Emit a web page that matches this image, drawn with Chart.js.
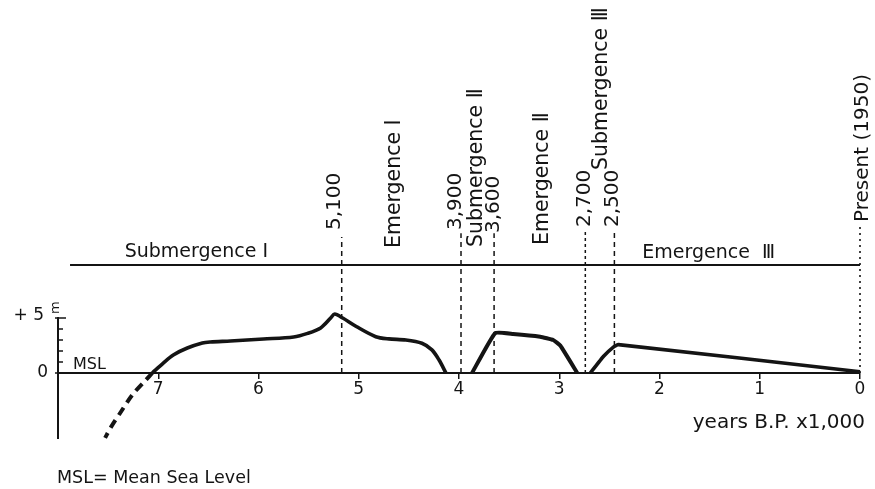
<!DOCTYPE html>
<html>
<head>
<meta charset="utf-8">
<script src="https://cdn.jsdelivr.net/npm/chart.js@4.4.1/dist/chart.umd.min.js"></script>
<style>
html,body{margin:0;padding:0;background:#fff;}
canvas{display:block;}
</style>
</head>
<body>
<canvas id="c" width="875" height="489"></canvas>
<script>
// ---- data (years B.P. x1,000 ; level in metres relative to MSL) ----
const xTicks = [7, 6, 5, 4, 3, 2, 1, 0];
const yTicks = [0, 1, 2, 3, 4, 5];

const curveAYears  = [7.06, 6.95, 6.85, 6.71, 6.56, 6.48, 6.28, 5.95, 5.65, 5.51, 5.38, 5.28, 5.24, 5.16, 5.02, 4.83, 4.70, 4.53, 4.37, 4.27, 4.20, 4.13];
const curveALevels = [0.0, 0.9, 1.64, 2.27, 2.73, 2.82, 2.91, 3.09, 3.27, 3.60, 4.10, 5.00, 5.36, 5.00, 4.20, 3.30, 3.10, 3.00, 2.70, 2.10, 1.20, 0.0];

const curveBYears  = [3.87, 3.64, 3.46, 3.19, 3.06, 2.99, 2.82];
const curveBLevels = [0.0, 3.62, 3.55, 3.30, 3.00, 2.50, 0.0];

const curveCYears  = [2.69, 2.56, 2.46, 2.41, 0.0];
const curveCLevels = [0.0, 1.50, 2.36, 2.58, 0.12];

const extrapYears  = [7.06, 7.12, 7.26, 7.37, 7.47, 7.53];
const extrapLevels = [0.0, -0.6, -2.0, -3.5, -4.9, -5.9];

const markerYears  = [5.17, 3.98, 3.65, 2.74, 2.45, 0.0];
const markerTops   = [12.36, 12.7, 12.7, 13.0, 13.0, 13.6];
const markerLabels = ['5,100', '3,900', '3,600', '2,700', '2,500', 'Present (1950)'];

const phaseLineYears = [7.88, 0.0];
const phaseLineLevel = 9.82;
const phaseLabels = ['Submergence Ⅰ', 'Emergence Ⅰ', 'Submergence Ⅱ', 'Emergence Ⅱ', 'Submergence Ⅲ', 'Emergence  Ⅲ'];

// ---- layout (positions of text in axis units) ----
const markerLabelPos = [[5.24, 13.0], [4.03, 13.0], [3.65, 12.73], [2.75, 13.27], [2.47, 13.27], [-0.03, 13.73]];
const phaseLabelPos  = [[6.62, 11.0, 0], [4.64, 11.36, 1], [3.82, 11.45, 1], [3.17, 11.64, 1], [2.58, 18.45, 1], [1.51, 10.9, 0]];

const INK = '#141414';
const FONT = '"DejaVu Sans", sans-serif';

function pts(xs, ys) { return xs.map((v, i) => ({x: v, y: ys[i]})); }

const datasets = [
  {data: pts(curveAYears, curveALevels), borderWidth: 3.6, tension: 0.3},
  {data: pts(curveBYears, curveBLevels), borderWidth: 4, tension: 0.12},
  {data: pts(curveCYears, curveCLevels), borderWidth: 3.6, tension: 0.1},
  {data: pts(extrapYears, extrapLevels), borderWidth: 4, tension: 0.3, borderDash: [9, 6]},
  {data: pts(phaseLineYears, [phaseLineLevel, phaseLineLevel]), borderWidth: 1.8}
];
markerYears.forEach((yr, i) => {
  const last = i === markerYears.length - 1;
  datasets.push({
    data: pts([yr, yr], [0, markerTops[i]]),
    borderWidth: last ? 1.6 : 1.5,
    borderDash: last ? [2, 4] : (i === 3 ? [3, 3] : [5, 4])
  });
});
datasets.forEach(d => {
  d.showLine = true; d.pointRadius = 0; d.borderColor = INK; d.fill = false;
  d.borderCapStyle = 'butt'; d.borderJoinStyle = 'round'; d.clip = false;
});

const annot = {
  id: 'annot',
  afterDraw(chart) {
    const {ctx, scales: {x, y}} = chart;
    ctx.save();
    ctx.fillStyle = INK; ctx.strokeStyle = INK;
    // y axis
    const x0 = x.getPixelForValue(8);
    ctx.lineWidth = 2;
    ctx.beginPath();
    ctx.moveTo(x0, y.getPixelForValue(5.1));
    ctx.lineTo(x0, y.getPixelForValue(-6));
    ctx.stroke();
    ctx.lineWidth = 1.5;
    yTicks.forEach(v => {
      const py = y.getPixelForValue(v);
      ctx.beginPath();
      ctx.moveTo(v === 5 || v === 0 ? x0 - 3 : x0, py);
      ctx.lineTo(v === 5 ? x0 + 8 : x0 + 5, py);
      ctx.stroke();
    });
    ctx.font = '17px ' + FONT;
    ctx.textAlign = 'right'; ctx.textBaseline = 'middle';
    ctx.fillText('0', x0 - 10, y.getPixelForValue(0));
    ctx.fillText('+ 5', x0 - 14, y.getPixelForValue(5) - 2);
    ctx.save();
    ctx.translate(x0 - 2, y.getPixelForValue(5) - 4);
    ctx.rotate(-Math.PI / 2);
    ctx.font = '13px ' + FONT; ctx.textAlign = 'left';
    ctx.fillText('m', 0, 0);
    ctx.restore();

    // MSL label
    ctx.font = '16px ' + FONT; ctx.textAlign = 'left'; ctx.textBaseline = 'middle';
    ctx.fillText('MSL', x.getPixelForValue(7.85), y.getPixelForValue(0.73));

    // axis title
    ctx.font = '20px ' + FONT; ctx.textAlign = 'right';
    ctx.fillText('years B.P. x1,000', x.getPixelForValue(-0.05), y.getPixelForValue(-4.55));

    // note
    ctx.font = '17.5px ' + FONT; ctx.textAlign = 'left';
    ctx.fillText('MSL= Mean Sea Level', x.getPixelForValue(8.01), y.getPixelForValue(-9.6));

    // marker labels (rotated)
    ctx.font = '20px ' + FONT;
    markerLabels.forEach((t, i) => {
      const [lx, ly] = markerLabelPos[i];
      ctx.save();
      ctx.translate(x.getPixelForValue(lx), y.getPixelForValue(ly));
      ctx.rotate(-Math.PI / 2);
      ctx.textAlign = 'left'; ctx.textBaseline = 'middle';
      ctx.fillText(t, 0, 0);
      ctx.restore();
    });
    // phase labels
    phaseLabels.forEach((t, i) => {
      const [lx, ly, rot] = phaseLabelPos[i];
      ctx.save();
      ctx.translate(x.getPixelForValue(lx), y.getPixelForValue(ly));
      if (rot) {
        ctx.font = '20.5px ' + FONT;
        ctx.rotate(-Math.PI / 2);
        ctx.textAlign = 'left';
      } else {
        ctx.font = '19px ' + FONT;
        ctx.textAlign = 'center';
      }
      ctx.textBaseline = 'middle';
      ctx.fillText(t, 0, 0);
      ctx.restore();
    });
    ctx.restore();
  }
};

new Chart(document.getElementById('c'), {
  type: 'scatter',
  data: {datasets},
  plugins: [annot],
  options: {
    responsive: false,
    animation: false,
    devicePixelRatio: 1,
    layout: {padding: {left: 58, right: 15, top: 318, bottom: 50}},
    plugins: {legend: {display: false}, tooltip: {enabled: false}},
    scales: {
      x: {
        type: 'linear', min: 0, max: 8, reverse: true,
        position: {y: 0},
        afterFit: s => { s.height = 0; },
        afterBuildTicks: s => { s.ticks = xTicks.map(v => ({value: v})); },
        grid: {display: true, drawOnChartArea: false, drawTicks: true, tickLength: 5, color: INK, lineWidth: 1.5},
        border: {display: true, color: INK, width: 2},
        ticks: {color: INK, font: {family: 'DejaVu Sans', size: 17}, padding: 1, maxRotation: 0, autoSkip: false}
      },
      y: {
        type: 'linear', min: -6, max: 5, display: false
      }
    }
  }
});
</script>
</body>
</html>
